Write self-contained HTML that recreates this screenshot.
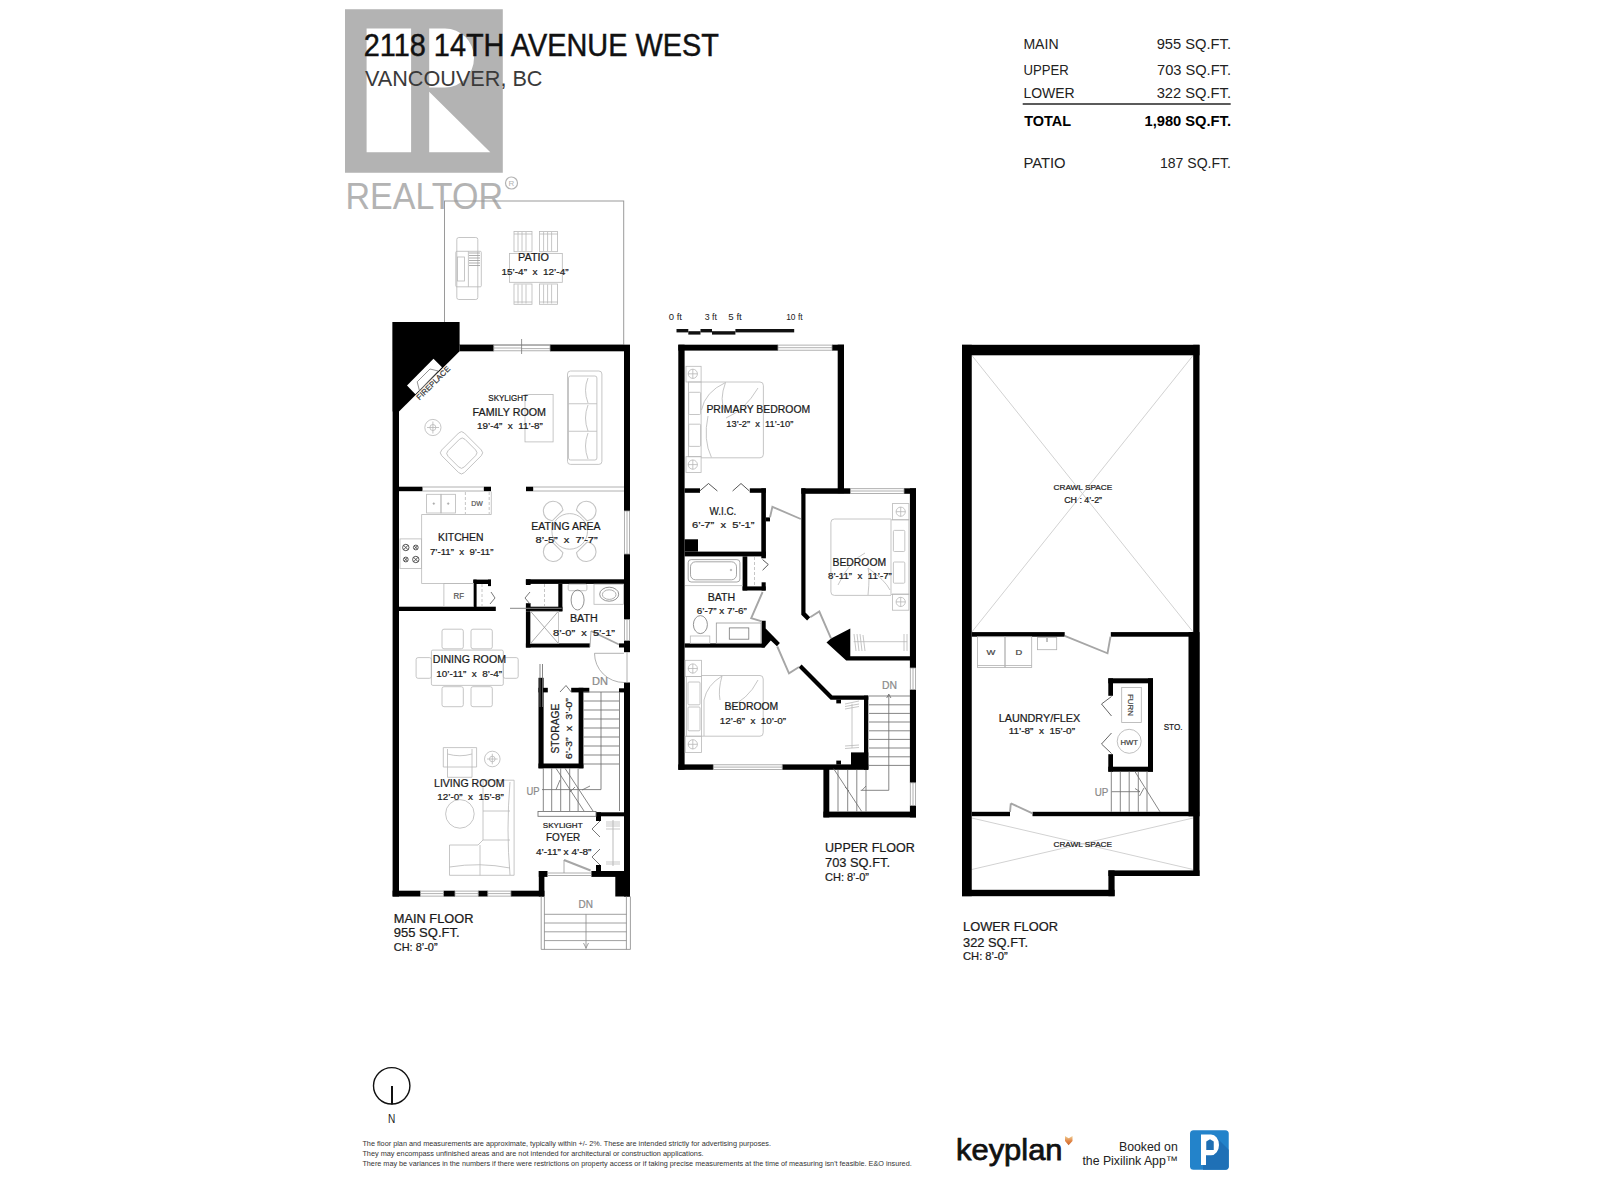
<!DOCTYPE html>
<html><head><meta charset="utf-8">
<style>
html,body{margin:0;padding:0;background:#fff;width:1600px;height:1200px;overflow:hidden}
svg{display:block}
text{font-family:"Liberation Sans",sans-serif}
#maintext text,#uppertext text,#lowertext text{stroke:#1a1a1a;stroke-width:0.22}
.t{fill:#222}
.g{fill:none;stroke:#b4b4b4;stroke-width:0.9}
.gl{fill:none;stroke:#c8c8c8;stroke-width:0.8}
.w{fill:#000}
</style></head><body>
<svg width="1600" height="1200" viewBox="0 0 1600 1200">
<!-- REALTOR LOGO overlay -->
<g id="realtor">
<path fill-rule="evenodd" fill="#b3b3b3" d="M345 9.2 H502.8 V172.7 H345 Z M366.6 28.4 H411.1 V152.2 H366.6 Z M429.2 28.4 H445 A29 29.5 0 0 1 445 87.4 H429.2 Z M429.2 91.7 L490.3 152.2 H429.2 Z"/>
<text x="345.5" y="209.2" font-size="37" textLength="157.5" lengthAdjust="spacingAndGlyphs" xml:space="preserve" fill="#b3b3b3">REALTOR</text>
<circle cx="511.5" cy="183" r="6" fill="none" stroke="#b3b3b3" stroke-width="1.2"/>
<text x="511.5" y="186" font-size="8" text-anchor="middle" fill="#b3b3b3">R</text>
</g>
<!-- HEADER -->
<g id="header">
<text x="363.8" y="56.1" font-size="30.5" textLength="355" lengthAdjust="spacingAndGlyphs" fill="#111" stroke="#111" stroke-width="0.45">2118 14TH AVENUE WEST</text>
<text x="365" y="86.3" font-size="21.6" textLength="177.5" lengthAdjust="spacingAndGlyphs" fill="#3a3a3a">VANCOUVER, BC</text>
</g>
<!-- AREA TABLE -->
<g id="table" font-size="14.2" fill="#222">
<text x="1023.4" y="48.6" textLength="35.2" lengthAdjust="spacingAndGlyphs">MAIN</text>
<text x="1156.7" y="48.6" textLength="74.3" lengthAdjust="spacingAndGlyphs">955 SQ.FT.</text>
<text x="1023.4" y="74.7" textLength="45.3" lengthAdjust="spacingAndGlyphs">UPPER</text>
<text x="1157" y="74.7" textLength="74" lengthAdjust="spacingAndGlyphs">703 SQ.FT.</text>
<text x="1023.4" y="98" textLength="51.3" lengthAdjust="spacingAndGlyphs">LOWER</text>
<text x="1156.7" y="98" textLength="74.3" lengthAdjust="spacingAndGlyphs">322 SQ.FT.</text>
<rect x="1022.7" y="103.2" width="208" height="1.6" fill="#333"/>
<text x="1024.2" y="126" font-weight="bold" textLength="46.8" lengthAdjust="spacingAndGlyphs" xml:space="preserve" fill="#000">TOTAL</text>
<text x="1144.5" y="126" font-weight="bold" textLength="86.5" lengthAdjust="spacingAndGlyphs" fill="#000">1,980 SQ.FT.</text>
<text x="1023.4" y="168.4" textLength="42.2" lengthAdjust="spacingAndGlyphs">PATIO</text>
<text x="1160" y="168.4" textLength="71" lengthAdjust="spacingAndGlyphs">187 SQ.FT.</text>
</g>
<!-- PLANS -->

<g id="main">
<!-- patio -->
<rect x="444.5" y="201" width="179.2" height="143.8" fill="none" stroke="#9a9a9a" stroke-width="1"/>
<!-- walls -->
<g class="w">
<rect x="392.6" y="322" width="6.4" height="574.5"/>
<polygon points="392.6,322 459.6,322 459.6,351.3 399,411.4 392.6,411.4"/>
<rect x="459.6" y="344.8" width="34.2" height="6.5"/>
<rect x="550" y="344.8" width="80" height="6.5"/>
<rect x="624" y="344.8" width="6" height="166.2"/>
<rect x="624" y="554" width="6" height="65.5"/>
<rect x="624" y="640.5" width="6" height="11.7"/>
<rect x="619" y="643.4" width="5" height="4.1"/>
<rect x="624" y="682.5" width="6" height="214"/>
<rect x="619" y="688.3" width="5" height="4.1"/>
<!-- kitchen top -->
<rect x="399" y="486.7" width="23.5" height="4.5"/>
<rect x="483.8" y="486.7" width="7.2" height="4.5"/>
<rect x="526" y="486.7" width="7.2" height="4.5"/>
<!-- kitchen/dining -->
<rect x="399" y="606.7" width="96.8" height="4.3"/>
<rect x="473.4" y="579.6" width="17.6" height="4.4"/>
<rect x="473.4" y="579.6" width="3.2" height="31"/>
<rect x="488" y="579.6" width="3" height="6.5"/>
<!-- bath -->
<rect x="525.9" y="579.3" width="98.1" height="4.6"/>
<rect x="525.9" y="579.3" width="4.7" height="5.7"/>
<rect x="558.3" y="583.9" width="4.1" height="27.4"/>
<rect x="525.9" y="606.7" width="36.5" height="4.6"/>
<rect x="525.9" y="603.2" width="4.7" height="4"/>
<rect x="525.9" y="611.3" width="4.7" height="36.2"/>
<rect x="525.9" y="643.4" width="63.9" height="4.1"/>
<!-- storage -->
<rect x="538.5" y="677.8" width="5.1" height="90.5"/>
<rect x="538.5" y="687.8" width="9.3" height="4.6"/>
<rect x="571.2" y="687.8" width="18.1" height="4.6"/>
<rect x="578.6" y="687.8" width="4.8" height="80.5"/>
<rect x="538.5" y="763.5" width="44.9" height="4.8"/>
<!-- foyer -->
<rect x="596" y="812.3" width="34" height="4"/>
<rect x="596" y="812.3" width="5" height="8.7"/>
<rect x="596" y="865" width="5" height="6"/>
<rect x="538.8" y="871" width="8.7" height="5.9"/>
<rect x="591.4" y="871" width="38.6" height="5.9"/>
<rect x="615.3" y="871" width="14.7" height="25.5"/>
<rect x="538.8" y="871" width="5.6" height="25.5"/>
<!-- bottom -->
<rect x="392.6" y="890.7" width="27.8" height="5.8"/>
<rect x="443.6" y="890.7" width="11.4" height="5.8"/>
<rect x="478.2" y="890.7" width="9.6" height="5.8"/>
<rect x="510.9" y="890.7" width="33.5" height="5.8"/>
</g>
<!-- windows / doors (gray) -->
<g fill="none" stroke="#9d9d9d" stroke-width="0.8">
<rect x="493.8" y="345.3" width="56.2" height="5.5"/>
<line x1="493.8" y1="348" x2="521.6" y2="348"/><line x1="521.6" y1="348.6" x2="550" y2="348.6"/>
<line x1="521.6" y1="339" x2="521.6" y2="354" stroke="#777"/>
<rect x="624.4" y="511" width="5.2" height="43"/><line x1="627" y1="511" x2="627" y2="554"/>
<rect x="624.4" y="619.5" width="5.2" height="21"/><line x1="627" y1="619.5" x2="627" y2="640.5"/>
<rect x="420.4" y="891.1" width="23.2" height="5"/><line x1="420.4" y1="893.6" x2="443.6" y2="893.6"/>
<rect x="455" y="891.1" width="23.2" height="5"/><line x1="455" y1="893.6" x2="478.2" y2="893.6"/>
<rect x="487.8" y="891.1" width="23.1" height="5"/><line x1="487.8" y1="893.6" x2="510.9" y2="893.6"/>
<!-- kitchen counter top line -->
<line x1="422.5" y1="487" x2="483.8" y2="487"/><line x1="422.5" y1="491" x2="483.8" y2="491"/>
<line x1="533.2" y1="487" x2="624" y2="487"/><line x1="533.2" y1="491" x2="624" y2="491"/>
<!-- right wall door -->
<path d="M591 631 L619 644.5" stroke="#a6a6a6" stroke-width="1.9"/><path d="M591 631 L590 647" stroke="#999"/>
<line x1="624" y1="653.3" x2="594.5" y2="653.3"/>
<path d="M594.5 653.3 A29.5 29.3 0 0 0 624 682.5"/>
<line x1="627" y1="652.2" x2="627" y2="682.5"/>
</g>
</g>


<g id="mainfurn" fill="none" stroke="#b8b8b8" stroke-width="0.8">
<!-- fireplace -->
<polygon points="407,385.6 433.5,358.75 442,367.2 415.4,394.3" fill="#fff" stroke="none"/>
<path d="M417.2 381.8 L430 369 L438.2 371 L419.5 390.8 Z" stroke="#777"/>
<!-- patio grill -->
<rect x="456.8" y="237.5" width="21" height="62" rx="2"/>
<rect x="455.8" y="251.3" width="25.5" height="35.5" rx="1"/>
<rect x="457.5" y="257" width="7" height="24"/>
<line x1="468.4" y1="251.3" x2="468.4" y2="286.8"/>
<path d="M469 253 h11 M469 255.5 h11 M469 258 h11 M469 260.5 h11 M469 263 h11 M469 265.5 h11" stroke="#999"/>
<!-- patio table/chairs -->
<rect x="509.5" y="253.4" width="52.8" height="28.9"/>
<rect x="514" y="231.4" width="18" height="20.3"/><rect x="539.6" y="231.4" width="18" height="20.3"/>
<rect x="514" y="284" width="18" height="20.3"/><rect x="539.6" y="284" width="18" height="20.3"/>
<path d="M518 232v19 M522 232v19 M526 232v19 M543.6 232v19 M547.6 232v19 M551.6 232v19 M518 284.5v19 M522 284.5v19 M526 284.5v19 M543.6 284.5v19 M547.6 284.5v19 M551.6 284.5v19 M514 234h18 M539.6 234h18 M514 302h18 M539.6 302h18"/>
<!-- family room -->
<rect x="567.5" y="371" width="34.4" height="93.4" rx="3"/>
<rect x="568.5" y="376" width="28.4" height="84" rx="2"/>
<line x1="568.5" y1="403.75" x2="596.9" y2="403.75"/><line x1="568.5" y1="431.25" x2="596.9" y2="431.25"/>
<path d="M588 378 Q583 390 588 403 M588 405 Q583 418 588 431 M588 433 Q583 446 588 459"/>
<rect x="525" y="394.4" width="28.1" height="47.5"/>
<circle cx="432.9" cy="427.5" r="8.1"/><circle cx="432.9" cy="427.5" r="3"/>
<path d="M427 427.5h12 M432.9 421.5v12"/>
<g transform="translate(461.5,452.8) rotate(45)">
<rect x="-16" y="-16" width="32" height="32" rx="4"/>
<rect x="-11" y="-12" width="23" height="24" rx="4"/>
</g>
<!-- kitchen -->
<path d="M491.3 514.5 H421.6 V583.5 H473.4"/>
<line x1="491.3" y1="491.5" x2="491.3" y2="514.5"/>
<rect x="426.6" y="494.3" width="14.4" height="18.7"/><rect x="441" y="494.3" width="14.4" height="18.7"/>
<circle cx="433.8" cy="503.6" r="0.8" fill="#999"/><circle cx="448.2" cy="503.6" r="0.8" fill="#999"/>
<path d="M465.4 492v22" stroke-dasharray="3 2"/><path d="M489.2 492v22" stroke-dasharray="3 2"/>
<rect x="400" y="538.9" width="21.6" height="29.5"/>
<g stroke="#444" stroke-width="0.9">
<circle cx="405.8" cy="547.5" r="3.2"/><circle cx="415.8" cy="547.5" r="2.4"/>
<circle cx="405.8" cy="559.5" r="2.4"/><circle cx="415.8" cy="559.5" r="3.2"/>
<path d="M403.5 545.2l4.6 4.6M408.1 545.2l-4.6 4.6M414.1 545.8l3.4 3.4M417.5 545.8l-3.4 3.4M404.1 557.8l3.4 3.4M407.5 557.8l-3.4 3.4M413.5 557.2l4.6 4.6M418.1 557.2l-4.6 4.6"/>
</g>
<rect x="443.9" y="583.5" width="29.5" height="23"/>
<path d="M482 584v22" stroke-dasharray="3 2"/>
<path d="M491 592 L495 598 L490 604" stroke="#555"/>
<path d="M544.5 584v22" stroke-dasharray="3 2"/>
<path d="M530 592 L525 598 L530 604" stroke="#555"/>
<line x1="510" y1="608.3" x2="561.7" y2="608.3" stroke="#888" stroke-width="1"/>
<!-- eating -->
<circle cx="569.7" cy="531.4" r="17.8" stroke="#c4c4c4" stroke-width="1"/>
<g stroke="#c4c4c4" stroke-width="1.1">
<path transform="translate(557.6,515.5) rotate(-45)" d="M-7.5 0 A9.8 9.8 0 1 1 7.5 0 Z"/>
<path transform="translate(581.8,515.5) rotate(45)" d="M-7.5 0 A9.8 9.8 0 1 1 7.5 0 Z"/>
<path transform="translate(557.6,547.3) rotate(-135)" d="M-7.5 0 A9.8 9.8 0 1 1 7.5 0 Z"/>
<path transform="translate(581.8,547.3) rotate(135)" d="M-7.5 0 A9.8 9.8 0 1 1 7.5 0 Z"/>
</g>
<!-- bath main -->
<rect x="568.2" y="584.2" width="18.7" height="6.5" rx="1.5"/>
<ellipse cx="577.6" cy="600" rx="6.5" ry="10" stroke="#777"/>
<rect x="594" y="584.2" width="29.5" height="20.1"/>
<ellipse cx="609.2" cy="594.2" rx="9.5" ry="7" stroke="#777"/>
<ellipse cx="609.2" cy="594.6" rx="6.8" ry="4.8" stroke="#999"/>
<!-- shower -->
<path d="M530.6 611.3 L558.3 643.4 M558.3 611.3 L530.6 643.4" stroke="#999"/>
<rect x="530.6" y="611.3" width="28" height="32"/>
<!-- dining -->
<rect x="431.4" y="650.1" width="71.9" height="35.3" rx="1.5"/>
<rect x="442" y="629.2" width="21.3" height="19.6" rx="2"/><rect x="471" y="629.2" width="21.3" height="19.6" rx="2"/>
<rect x="442" y="686.7" width="21.3" height="20" rx="2"/><rect x="471" y="686.7" width="21.3" height="20" rx="2"/>
<rect x="416.1" y="657.6" width="15.3" height="20.7" rx="2"/><rect x="503.3" y="657.6" width="14.9" height="20.7" rx="2"/>
<!-- living -->
<path d="M443.3 747.6 H476.6 V767 H472 V777.3 H447.5 V767 H443.3 Z"/>
<path d="M447.5 754 Q460 757.5 472 754 M447.5 749 V767 M472 749 V767 M447.5 767 h24.5"/>
<circle cx="492.3" cy="759" r="7.8"/><circle cx="492.3" cy="759" r="2.8"/><path d="M487 759h10.6M492.3 753.7v10.6"/>
<circle cx="459.9" cy="813.9" r="14.3"/>
<path d="M483 780.2 H514.1 V875.3 H449.5 V845 H478 L483 840 Z"/>
<path d="M483 811 H510 M483 840 H510 M480 845 V875.3 M449.5 867 Q480 862 510 868 M510 782 Q506 830 510 875"/>
<!-- stairs main -->
<g stroke="#707070" stroke-width="0.85">
<path d="M583.4 692 H619 M583.4 701 H619 M583.4 710 H619 M583.4 719 H619 M583.4 728 H619 M583.4 737 H619 M583.4 746 H619 M583.4 755 H619 M583.4 764 H619"/>
<path d="M619.5 692 V811 M601 692 V789.6 H542"/>
<path d="M543.3 768.3 V811 M551.7 768.3 V811 M560.7 768.3 V811 M569.7 768.3 V811 M578.1 768.3 V811"/>
<path d="M556 768.3 L584 811 M565 768.3 L593 811"/>
<rect x="538" y="811.5" width="58" height="4.8"/>
<path d="M540 664 V707 M542.5 664 V707"/>
<path d="M560 780 L556 789.6 M575 787 L570 792 M590 786 L582 790"/>
</g>
<!-- foyer closet -->
<line x1="613" y1="820" x2="613" y2="866" stroke="#aaa"/>
<path d="M606 822 h14 M606 824 h14 M606 826 h14 M606 829 h14 M606 862 h14 M606 864 h14" stroke="#bbb"/>
<path d="M600 821 L592 829 L600 837 M600 849 L592 857 L600 865" stroke="#555"/>
<path d="M564 860 L590.6 870.5" stroke="#a6a6a6" stroke-width="1.9"/><path d="M564 860 V873" stroke="#999"/>
<path d="M547.5 873 H591.4 M547.5 875.5 H591.4" stroke="#999"/>
<!-- bifold storage door -->
<path d="M560 692 L566 685.5 L571.2 692" stroke="#555"/>
<!-- front stairs -->
<g stroke="#888" stroke-width="0.8">
<path d="M541.2 896.5 V949.4 M544.4 896.5 V949.4 M630.4 896.5 V949.4 M626.4 896.5 V949.4"/>
<path d="M544.4 914.3 H626.4 M544.4 923 H626.4 M544.4 931.8 H626.4 M544.4 940.6 H626.4 M541.2 949.4 H630.4"/>
<path d="M586 914.3 V949.4 M583.5 943 L586 948 L588.5 943"/>
</g>
</g>
<g id="maintext" style="white-space:pre">
<text style="stroke:#555" x="471.2" y="506.3" font-size="7.4" textLength="11.5" lengthAdjust="spacingAndGlyphs" fill="#555">DW</text>
<text style="stroke:#555" x="453.5" y="598.7" font-size="8.6" textLength="10.5" lengthAdjust="spacingAndGlyphs" fill="#555">RF</text>
<text x="518.1" y="261" font-size="10.6" textLength="30.9" lengthAdjust="spacingAndGlyphs" xml:space="preserve" fill="#1a1a1a" >PATIO</text>
<text x="501.5" y="274.8" font-size="9.2" textLength="67.0" lengthAdjust="spacingAndGlyphs" xml:space="preserve" fill="#1a1a1a" >15&#8217;-4&#8221;  x  12&#8217;-4&#8221;</text>
<text x="488.3" y="400.6" font-size="8.7" textLength="39.7" lengthAdjust="spacingAndGlyphs" xml:space="preserve" fill="#1a1a1a" >SKYLIGHT</text>
<text x="472.6" y="415.7" font-size="10.5" textLength="73.4" lengthAdjust="spacingAndGlyphs" xml:space="preserve" fill="#1a1a1a" >FAMILY ROOM</text>
<text x="477" y="429" font-size="9.3" textLength="65.8" lengthAdjust="spacingAndGlyphs" xml:space="preserve" fill="#1a1a1a" >19&#8217;-4&#8221;  x  11&#8217;-8&#8221;</text>
<text x="438" y="541.4" font-size="10.2" textLength="45.5" lengthAdjust="spacingAndGlyphs" xml:space="preserve" fill="#1a1a1a" >KITCHEN</text>
<text x="430" y="555" font-size="9.4" textLength="63.4" lengthAdjust="spacingAndGlyphs" xml:space="preserve" fill="#1a1a1a" >7&#8217;-11&#8221;  x  9&#8217;-11&#8221;</text>
<text x="531.3" y="529.7" font-size="10.5" textLength="69.2" lengthAdjust="spacingAndGlyphs" xml:space="preserve" fill="#1a1a1a" >EATING AREA</text>
<text x="535.6" y="543.4" font-size="9.4" textLength="62.1" lengthAdjust="spacingAndGlyphs" xml:space="preserve" fill="#1a1a1a" >8&#8217;-5&#8221;  x  7&#8217;-7&#8221;</text>
<text x="569.9" y="621.5" font-size="10" textLength="27.8" lengthAdjust="spacingAndGlyphs" xml:space="preserve" fill="#1a1a1a" >BATH</text>
<text x="553" y="635.7" font-size="9.4" textLength="62" lengthAdjust="spacingAndGlyphs" xml:space="preserve" fill="#1a1a1a" >8&#8217;-0&#8221;  x  5&#8217;-1&#8221;</text>
<text x="432.8" y="663.1" font-size="10.7" textLength="73.2" lengthAdjust="spacingAndGlyphs" xml:space="preserve" fill="#1a1a1a" >DINING ROOM</text>
<text x="436.3" y="676.7" font-size="9.3" textLength="65.7" lengthAdjust="spacingAndGlyphs" xml:space="preserve" fill="#1a1a1a" >10&#8217;-11&#8221;  x  8&#8217;-4&#8221;</text>
<text x="434" y="787" font-size="10.8" textLength="70.5" lengthAdjust="spacingAndGlyphs" xml:space="preserve" fill="#1a1a1a" >LIVING ROOM</text>
<text x="437.3" y="800" font-size="9.0" textLength="66.4" lengthAdjust="spacingAndGlyphs" xml:space="preserve" fill="#1a1a1a" >12&#8217;-0&#8221;  x  15&#8217;-8&#8221;</text>
<text x="542.8" y="828.2" font-size="8.0" textLength="39.8" lengthAdjust="spacingAndGlyphs" xml:space="preserve" fill="#1a1a1a" >SKYLIGHT</text>
<text x="546" y="840.7" font-size="10.7" textLength="34.2" lengthAdjust="spacingAndGlyphs" xml:space="preserve" fill="#1a1a1a" >FOYER</text>
<text x="536" y="854.5" font-size="8.6" textLength="55.4" lengthAdjust="spacingAndGlyphs" xml:space="preserve" fill="#1a1a1a" >4&#8217;-11&#8221; x 4&#8217;-8&#8221;</text>
<text x="393.8" y="923" font-size="12.2" textLength="79.6" lengthAdjust="spacingAndGlyphs" xml:space="preserve" fill="#1a1a1a" >MAIN FLOOR</text>
<text x="393.8" y="936.6" font-size="12.6" textLength="65.8" lengthAdjust="spacingAndGlyphs" xml:space="preserve" fill="#1a1a1a" >955 SQ.FT.</text>
<text x="393.8" y="951" font-size="10.5" textLength="43.8" lengthAdjust="spacingAndGlyphs" xml:space="preserve" fill="#1a1a1a" >CH: 8&#8217;-0&#8221;</text>
<text style="stroke:#8a8a8a" x="526.5" y="794.6" font-size="10.5" textLength="13.1" lengthAdjust="spacingAndGlyphs" xml:space="preserve" fill="#8a8a8a" >UP</text>
<text style="stroke:#8a8a8a" x="592" y="685" font-size="10.5" textLength="16" lengthAdjust="spacingAndGlyphs" xml:space="preserve" fill="#8a8a8a" >DN</text>
<text style="stroke:#8a8a8a" x="578.6" y="907.5" font-size="10.9" textLength="14.4" lengthAdjust="spacingAndGlyphs" xml:space="preserve" fill="#8a8a8a" >DN</text>
<text transform="translate(558.7,753.5) rotate(-90)" x="0" y="0" font-size="11.2" textLength="49.8" lengthAdjust="spacingAndGlyphs" xml:space="preserve" fill="#1a1a1a">STORAGE</text>
<text transform="translate(572.3,759.2) rotate(-90)" x="0" y="0" font-size="9.3" textLength="61.2" lengthAdjust="spacingAndGlyphs" xml:space="preserve" fill="#1a1a1a">6&#8217;-3&#8221;  x  3&#8217;-0&#8221;</text>
<text style="stroke:#333" transform="translate(419.5,400.5) rotate(-45)" x="0" y="0" font-size="7.6" textLength="44" lengthAdjust="spacingAndGlyphs" xml:space="preserve" fill="#333">FIREPLACE</text>
</g>

<g id="upper">
<g class="w">
<rect x="678.3" y="344.7" width="6.3" height="425.1"/>
<rect x="678.3" y="344.7" width="99.7" height="5.9"/>
<rect x="832" y="344.7" width="12" height="5.9"/>
<rect x="837.7" y="344.7" width="6.3" height="148.5"/>
<!-- WIC -->
<rect x="684.6" y="488.3" width="15.4" height="4.5"/>
<rect x="749.8" y="488.3" width="16.1" height="4.5"/>
<rect x="761.3" y="488.3" width="4.6" height="70"/>
<rect x="765.9" y="517.4" width="4.1" height="4"/>
<rect x="684.6" y="551.6" width="81.3" height="4.8"/>
<rect x="684.6" y="539.3" width="13.4" height="12.3"/>
<!-- bath closet -->
<rect x="742.6" y="556.4" width="4.7" height="34.1"/>
<rect x="742.6" y="586.4" width="23.1" height="4.1"/>
<rect x="761.6" y="582.3" width="4.1" height="8.2"/>
<!-- bath bottom -->
<rect x="684.6" y="643.4" width="80" height="4.2"/>
<polygon points="761.6,620.8 765.7,620.8 765.7,628.5 779.9,643 776.9,646.2 770.8,640.6 764.6,647.6 761.6,647.6"/>
<!-- bedroom2 -->
<rect x="801.3" y="488.3" width="49.1" height="5.5"/>
<rect x="904" y="488.3" width="12" height="5.5"/>
<rect x="909.9" y="488.3" width="6.1" height="179.7"/>
<polygon points="801.3,488.3 805.5,488.3 805.5,612.5 810.2,617.2 807.1,620.5 801.3,614.8"/>
<polygon points="826.5,642.6 831,638.5 850.3,628.4 850.3,656.2 916,656.2 916,660.4 846.2,660.4"/>
<!-- right outer lower -->
<rect x="909.9" y="689.6" width="6.1" height="93.2"/>
<rect x="909.9" y="805.5" width="6.1" height="11.9"/>
<!-- bedroom3 -->
<polygon points="798.6,667.6 801.6,664.6 832.4,695.6 868.3,695.6 868.3,699.8 830.6,699.8"/>
<rect x="864" y="695.6" width="4.3" height="74.2"/>
<rect x="836.3" y="699.6" width="4.7" height="3.8"/>
<rect x="851" y="752.4" width="17.3" height="16.4"/>
<rect x="678.3" y="764.4" width="35" height="5.4"/>
<rect x="782.2" y="764.4" width="86.1" height="5.4"/>
<rect x="836.3" y="760.6" width="4.7" height="4"/>
<!-- stair enclosure -->
<rect x="823.4" y="768.7" width="5.9" height="48.7"/>
<rect x="823.4" y="811.6" width="92.6" height="5.8"/>
</g>
<!-- scale bar -->
<g fill="#111">
<rect x="676.5" y="329" width="11.8" height="3.4"/>
<rect x="688.3" y="331.2" width="12.2" height="3.4"/>
<rect x="700.5" y="329" width="11.5" height="3.4"/>
<rect x="712" y="331.2" width="23.4" height="3.4"/>
<rect x="735.4" y="329" width="58.8" height="3.4"/>
</g>
<g fill="none" stroke="#9d9d9d" stroke-width="0.8">
<rect x="778" y="345.1" width="54" height="5.1"/><line x1="778" y1="347.7" x2="832" y2="347.7"/>
<rect x="850.4" y="488.7" width="53.6" height="4.7"/><line x1="850.4" y1="491" x2="904" y2="491"/>
<rect x="713.3" y="764.8" width="68.9" height="4.6"/><line x1="713.3" y1="767.1" x2="782.2" y2="767.1"/>
<rect x="910.3" y="668" width="5.3" height="21.6"/><line x1="913" y1="668" x2="913" y2="689.6"/>
<rect x="910.3" y="782.8" width="5.3" height="22.7"/><line x1="913" y1="782.8" x2="913" y2="805.5"/>
<!-- doors -->
<path d="M699.7 491 L708.5 483.5 L717.4 491 M732.6 491 L741 483.5 L749.4 491" stroke="#444" stroke-width="0.9"/>
<path d="M770 517.4 L772.4 506.8 L800.8 519" stroke="#a6a6a6" stroke-width="1.9"/>
<path d="M762.6 559.6 L768.3 564.5 L762.6 570.2" stroke="#444" stroke-width="0.9"/>
<path d="M762.6 592 L751.2 618.1 L761.8 621.4" stroke="#a6a6a6" stroke-width="1.9"/>
<path d="M810.2 617.2 L819.3 611.5 L831 638.3" stroke="#a6a6a6" stroke-width="1.9"/>
<path d="M777.3 646.5 L789 673.3 L799 667" stroke="#a6a6a6" stroke-width="1.9"/>
</g>
<g fill="none" stroke="#b8b8b8" stroke-width="0.8">
<!-- primary bed -->
<rect x="686" y="366.3" width="15.1" height="15.7"/><circle cx="692.8" cy="373.8" r="4.6"/><path d="M688 373.8h9.6M692.8 369v9.6"/>
<rect x="686" y="456.7" width="15.1" height="15.7"/><circle cx="692.8" cy="464.6" r="4.6"/><path d="M688 464.6h9.6M692.8 459.8v9.6"/>
<rect x="688.5" y="382" width="12.6" height="74.7"/>
<rect x="688.7" y="392.3" width="11.9" height="22.2" rx="1"/><rect x="688.7" y="424.2" width="11.9" height="22.2" rx="1"/>
<path d="M701.1 382 H760 Q763.4 382 763.4 385.5 V454.3 Q763.4 457.8 760 457.8 H701.1"/>
<path d="M725.5 382.5 Q705 392 701.5 410 M725.5 382.5 Q719 400 725 412 M758 388 Q745 410 726 418 M708 416 Q703 440 711.4 457.3"/>
<!-- bedroom2 bed -->
<rect x="892.6" y="503.6" width="16.3" height="16.2"/><circle cx="900.7" cy="511.7" r="4.6"/><path d="M896 511.7h9.6M900.7 507v9.6"/>
<rect x="892.6" y="594" width="16.3" height="16.2"/><circle cx="900.7" cy="601.9" r="4.6"/><path d="M896 601.9h9.6M900.7 597.2v9.6"/>
<rect x="891" y="519.8" width="17.9" height="74.8"/>
<rect x="893.4" y="530.4" width="11.4" height="21.1" rx="1"/><rect x="893.4" y="562" width="11.4" height="21.2" rx="1"/>
<path d="M891 519 H834.4 Q830.9 519 830.9 522.5 V591.9 Q830.9 595.4 834.4 595.4 H891"/>
<path d="M868 595 Q870 575 868 568 M868 568 Q885 580 890 590 M838 585 Q850 560 865 553"/>
<!-- clothes rod bedroom2 -->
<line x1="853.6" y1="641.7" x2="907.2" y2="641.7"/>
<path d="M854 634 L856 651 M857 634 L859 651 M860 634 L862 651 M863 635 L865 651 M904 634 V651 M907 634 V651"/>
<!-- bath upper -->
<rect x="688.2" y="559.6" width="51.7" height="22.4" rx="3" stroke="#8f8f8f"/>
<rect x="690.5" y="561.8" width="46" height="18" rx="5" stroke="#8f8f8f"/>
<line x1="685" y1="585.6" x2="742.6" y2="585.6"/>
<circle cx="731" cy="570" r="0.8" fill="#999"/>
<ellipse cx="700.4" cy="624.6" rx="7" ry="9" stroke="#777"/>
<rect x="690.3" y="636" width="19.5" height="7.3"/>
<rect x="716.3" y="623" width="44.7" height="20.3" stroke="#999"/>
<rect x="729.3" y="627.9" width="19.5" height="11.3" stroke="#777"/>
<path d="M754.5 557 V586" stroke-dasharray="3 2"/>
<!-- bedroom3 bed -->
<rect x="685.2" y="660.3" width="16.2" height="16.3"/><circle cx="692.8" cy="668.5" r="4.6"/><path d="M688 668.5h9.6M692.8 663.8v9.6"/>
<rect x="685.2" y="736.2" width="16.2" height="16.2"/><circle cx="692.8" cy="744.3" r="4.6"/><path d="M688 744.3h9.6M692.8 739.6v9.6"/>
<rect x="686.3" y="676.6" width="15.1" height="59.6"/>
<rect x="688" y="682" width="12" height="22.8" rx="1"/><rect x="688" y="707" width="12" height="23.8" rx="1"/>
<path d="M701.4 675.5 H760 Q763.2 675.5 763.2 679 V732.7 Q763.2 736.2 760 736.2 H701.4"/>
<path d="M722 676 Q707 685 704 700 V736 M722 676 Q718 690 720 700 M758 680 Q748 700 727 708"/>
<line x1="852" y1="703.7" x2="852" y2="748.1"/>
<path d="M845 704 L859 701 M845 706.5 L859 704 M845 709 L859 706.5 M845 746 L859 745 M845 748.5 L859 747.5"/>
</g>
<!-- upper stairs -->
<g fill="none" stroke="#707070" stroke-width="0.85">
<path d="M869 696 H910 M869 704.8 H910 M869 713.4 H910 M869 722 H910 M869 730.8 H910 M869 739.4 H910 M869 748 H910 M869 756.8 H910 M869 765.4 H910"/>
<path d="M888.8 695 V790.3 H860.7 M838 769.8 V811.6 M847.7 769.8 V811.6 M856.8 769.8 V811.6 M866 769.8 V811.6 M833.6 768.7 L861.8 811.6"/>
<path d="M886.7 698 L888.8 694 L890.9 698 M845 787 L849 791 M866 786 L862 790.3"/>
</g>
</g>
<g id="uppertext">
<text style="stroke:none" x="668.8" y="320.2" font-size="8.6" textLength="13.2" lengthAdjust="spacingAndGlyphs" xml:space="preserve" fill="#222">0 ft</text>
<text style="stroke:none" x="704.7" y="320.2" font-size="8.6" textLength="12.3" lengthAdjust="spacingAndGlyphs" xml:space="preserve" fill="#222">3 ft</text>
<text style="stroke:none" x="728.3" y="320.2" font-size="8.6" textLength="13.5" lengthAdjust="spacingAndGlyphs" xml:space="preserve" fill="#222">5 ft</text>
<text style="stroke:none" x="786.2" y="320.2" font-size="8.6" textLength="16.4" lengthAdjust="spacingAndGlyphs" xml:space="preserve" fill="#222">10 ft</text>
<text x="706.4" y="413" font-size="10.9" textLength="103.8" lengthAdjust="spacingAndGlyphs" xml:space="preserve" fill="#1a1a1a" >PRIMARY BEDROOM</text>
<text x="726.3" y="427" font-size="9.8" textLength="67.0" lengthAdjust="spacingAndGlyphs" xml:space="preserve" fill="#1a1a1a" >13&#8217;-2&#8221;  x  11&#8217;-10&#8221;</text>
<text x="709.5" y="515" font-size="10.7" textLength="26.8" lengthAdjust="spacingAndGlyphs" xml:space="preserve" fill="#1a1a1a" >W.I.C.</text>
<text x="692" y="528.4" font-size="9.3" textLength="62.5" lengthAdjust="spacingAndGlyphs" xml:space="preserve" fill="#1a1a1a" >6&#8217;-7&#8221;  x  5&#8217;-1&#8221;</text>
<text x="707.7" y="600.7" font-size="10.7" textLength="27.6" lengthAdjust="spacingAndGlyphs" xml:space="preserve" fill="#1a1a1a" >BATH</text>
<text x="696.8" y="614" font-size="9.3" textLength="49.9" lengthAdjust="spacingAndGlyphs" xml:space="preserve" fill="#1a1a1a" >6&#8217;-7&#8221; x 7&#8217;-6&#8221;</text>
<text x="832.5" y="566.1" font-size="10.6" textLength="53.6" lengthAdjust="spacingAndGlyphs" xml:space="preserve" fill="#1a1a1a" >BEDROOM</text>
<text x="828" y="579.4" font-size="9.3" textLength="63.8" lengthAdjust="spacingAndGlyphs" xml:space="preserve" fill="#1a1a1a" >8&#8217;-11&#8221;  x  11&#8217;-7&#8221;</text>
<text x="724.6" y="710.2" font-size="10.4" textLength="53.7" lengthAdjust="spacingAndGlyphs" xml:space="preserve" fill="#1a1a1a" >BEDROOM</text>
<text x="719.8" y="723.8" font-size="9.6" textLength="66.2" lengthAdjust="spacingAndGlyphs" xml:space="preserve" fill="#1a1a1a" >12&#8217;-6&#8221;  x  10&#8217;-0&#8221;</text>
<text style="stroke:#8a8a8a" x="882" y="688.5" font-size="10.9" textLength="15" lengthAdjust="spacingAndGlyphs" xml:space="preserve" fill="#8a8a8a" >DN</text>
<text x="825" y="852.1" font-size="12.6" textLength="89.8" lengthAdjust="spacingAndGlyphs" xml:space="preserve" fill="#1a1a1a" >UPPER FLOOR</text>
<text x="825" y="866.6" font-size="13" textLength="65" lengthAdjust="spacingAndGlyphs" xml:space="preserve" fill="#1a1a1a" >703 SQ.FT.</text>
<text x="825" y="881.4" font-size="10.8" textLength="44" lengthAdjust="spacingAndGlyphs" xml:space="preserve" fill="#1a1a1a" >CH: 8&#8217;-0&#8221;</text>
</g>


<g id="lower">
<g fill="none" stroke="#d2d2d2" stroke-width="1">
<path d="M971.75 355.3 L1193.2 632.1 M1193.2 355.3 L971.75 632.1"/>
<path d="M971.75 818 L1193.2 869.5 M1193.2 818 L971.75 869.5"/>
</g>
<g class="w">
<rect x="962" y="344.8" width="237.5" height="10.5"/>
<rect x="962" y="344.8" width="9.75" height="551.4"/>
<rect x="1193.2" y="344.8" width="6.3" height="531.2"/>
<rect x="1188.5" y="632.1" width="11" height="184.2"/>
<rect x="971.75" y="632.1" width="92.95" height="4.6"/>
<rect x="1110.8" y="632.1" width="82.4" height="4.6"/>
<rect x="971.75" y="811.8" width="38.25" height="4.4"/>
<rect x="1032.5" y="811.8" width="166.7" height="4.4"/>
<rect x="962" y="889.8" width="152.6" height="6.4"/>
<rect x="1108.4" y="870.4" width="6.2" height="25.8"/>
<rect x="1108.4" y="870.4" width="91.1" height="5.6"/>
<!-- utility -->
<rect x="1108.3" y="678.3" width="44.7" height="5"/>
<rect x="1108.3" y="678.3" width="4.7" height="17.5"/>
<rect x="1108.3" y="754.2" width="4.7" height="17.5"/>
<rect x="1148" y="678.3" width="5" height="93.4"/>
<rect x="1108.3" y="766.7" width="44.7" height="5"/>
</g>
<g fill="none" stroke="#a6a6a6" stroke-width="1.9">
<path d="M1064.7 635.8 L1107.5 653.3 L1110.5 636.7"/>
<path d="M1010.8 803.3 L1032.5 813.3 M1010.8 803.3 L1010 812"/>
</g>
<g fill="none" stroke="#555" stroke-width="0.9">
<path d="M1111.5 696.5 L1101.5 704 L1111.5 716 M1111.5 733 L1101.5 744 L1111.5 753.5"/>
</g>
<g fill="none" stroke="#b0b0b0" stroke-width="0.8">
<rect x="977.5" y="636.7" width="27.5" height="30.8"/><rect x="1005" y="636.7" width="26.7" height="30.8"/>
<line x1="977.5" y1="665.5" x2="1031.7" y2="665.5"/>
<rect x="1037.5" y="637.5" width="19.2" height="12.2"/>
<path d="M1047 638v4" stroke="#666"/>
<rect x="1121.7" y="687.5" width="19.6" height="35"/>
<circle cx="1129.2" cy="741.3" r="12"/>
</g>
<g fill="none" stroke="#707070" stroke-width="0.85">
<path d="M1111.3 771.7 V811.8 M1120.3 771.7 V811.8 M1129.2 771.7 V811.8 M1138.3 771.7 V811.8 M1147 771.7 V811.8 M1135 771.7 L1160 811.8"/>
<path d="M1111.7 791.7 H1140 M1135 788.5 L1140 791.7 M1144 788 L1139.5 796"/>
</g>
</g>
<g id="lowertext">
<text x="1053.5" y="490" font-size="7.9" textLength="58.7" lengthAdjust="spacingAndGlyphs" xml:space="preserve" fill="#1a1a1a" >CRAWL SPACE</text>
<text x="1064.2" y="503.4" font-size="8.2" textLength="37.8" lengthAdjust="spacingAndGlyphs" xml:space="preserve" fill="#1a1a1a" >CH : 4&#8217;-2&#8221;</text>
<text x="998.7" y="721.7" font-size="10.6" textLength="81.6" lengthAdjust="spacingAndGlyphs" xml:space="preserve" fill="#1a1a1a" >LAUNDRY/FLEX</text>
<text x="1008.7" y="734.2" font-size="9.0" textLength="66.3" lengthAdjust="spacingAndGlyphs" xml:space="preserve" fill="#1a1a1a" >11&#8217;-8&#8221;  x  15&#8217;-0&#8221;</text>
<text x="1163.7" y="730" font-size="9.8" textLength="18.8" lengthAdjust="spacingAndGlyphs" xml:space="preserve" fill="#1a1a1a" >STO.</text>
<text x="1053.5" y="847.4" font-size="7.9" textLength="58.5" lengthAdjust="spacingAndGlyphs" xml:space="preserve" fill="#1a1a1a" >CRAWL SPACE</text>
<text style="stroke:#8a8a8a" x="1094.7" y="796.3" font-size="10.2" textLength="13.6" lengthAdjust="spacingAndGlyphs" xml:space="preserve" fill="#8a8a8a" >UP</text>
<text style="stroke:#444" x="986.4" y="655" font-size="8" textLength="8.8" lengthAdjust="spacingAndGlyphs" xml:space="preserve" fill="#444" >W</text>
<text style="stroke:#444" x="1015.6" y="655" font-size="8" textLength="6.7" lengthAdjust="spacingAndGlyphs" xml:space="preserve" fill="#444" >D</text>
<text style="stroke:#444" transform="translate(1127.5,694) rotate(90)" font-size="8" textLength="22" lengthAdjust="spacingAndGlyphs" fill="#444">FURN</text>
<text style="stroke:#444" x="1120.5" y="744.5" font-size="7" textLength="17.5" lengthAdjust="spacingAndGlyphs" xml:space="preserve" fill="#444" >HWT</text>
<text x="963" y="931.4" font-size="13.0" textLength="95" lengthAdjust="spacingAndGlyphs" xml:space="preserve" fill="#1a1a1a" >LOWER FLOOR</text>
<text x="963" y="946.5" font-size="12.9" textLength="65" lengthAdjust="spacingAndGlyphs" xml:space="preserve" fill="#1a1a1a" >322 SQ.FT.</text>
<text x="963" y="959.7" font-size="10.6" textLength="44.7" lengthAdjust="spacingAndGlyphs" xml:space="preserve" fill="#1a1a1a" >CH: 8&#8217;-0&#8221;</text>
</g>

<!-- FOOTER -->
<g id="footer">
<circle cx="391.7" cy="1085.8" r="18.2" fill="none" stroke="#111" stroke-width="1.4"/>
<rect x="391" y="1086" width="2" height="18.4" fill="#111"/>
<text x="388" y="1123" font-size="12.8" textLength="7.3" lengthAdjust="spacingAndGlyphs" fill="#222">N</text>
<g font-size="7.2" fill="#333">
<text x="362.4" y="1146" textLength="408.6" lengthAdjust="spacingAndGlyphs">The floor plan and measurements are approximate, typically within +/- 2%. These are intended strictly for advertising purposes.</text>
<text x="362.4" y="1155.9" textLength="341.2" lengthAdjust="spacingAndGlyphs">They may encompass unfinished areas and are not intended for architectural or construction applications.</text>
<text x="362.4" y="1166" textLength="549.3" lengthAdjust="spacingAndGlyphs">There may be variances in the numbers if there were restrictions on property access or if taking precise measurements at the time of measuring isn't feasible. E&amp;O insured.</text>
</g>
<text x="956" y="1160.3" font-size="29.5" textLength="106.5" lengthAdjust="spacingAndGlyphs" fill="#111" stroke="#111" stroke-width="0.75">keyplan</text>
<defs><linearGradient id="fox" x1="0" y1="0" x2="0" y2="1"><stop offset="0" stop-color="#efd39a"/><stop offset="0.5" stop-color="#e38a4a"/><stop offset="1" stop-color="#c8622a"/></linearGradient></defs><path d="M1065 1136 L1068.7 1138.3 L1072.5 1136 L1072.5 1141 L1068.6 1145.3 L1065 1141 Z" fill="url(#fox)"/>
<text x="1177.8" y="1151" font-size="12.3" text-anchor="end" fill="#222">Booked on</text>
<text x="1178.1" y="1165" font-size="12.3" text-anchor="end" fill="#222">the Pixilink App™</text>
<defs><clipPath id="pclip"><rect x="1190" y="1130.25" width="38.75" height="39.5" rx="3.5"/></clipPath></defs>
<rect x="1190" y="1130.25" width="38.75" height="39.5" rx="3.5" fill="#2383ca"/>
<polygon clip-path="url(#pclip)" points="1216,1137 1232,1153 1232,1172 1203,1172 1203,1155" fill="#1f70b6"/>
<path d="M1201 1134.5 H1211 A8 10.375 0 0 1 1211 1155.25 H1206 V1165 H1201 Z" fill="#fff"/>
<path d="M1206.25 1150 V1141.5 L1210 1139.25 L1213.75 1141.5 V1150 Z" fill="#1f6fb3"/>
</g>

</svg>
</body></html>
